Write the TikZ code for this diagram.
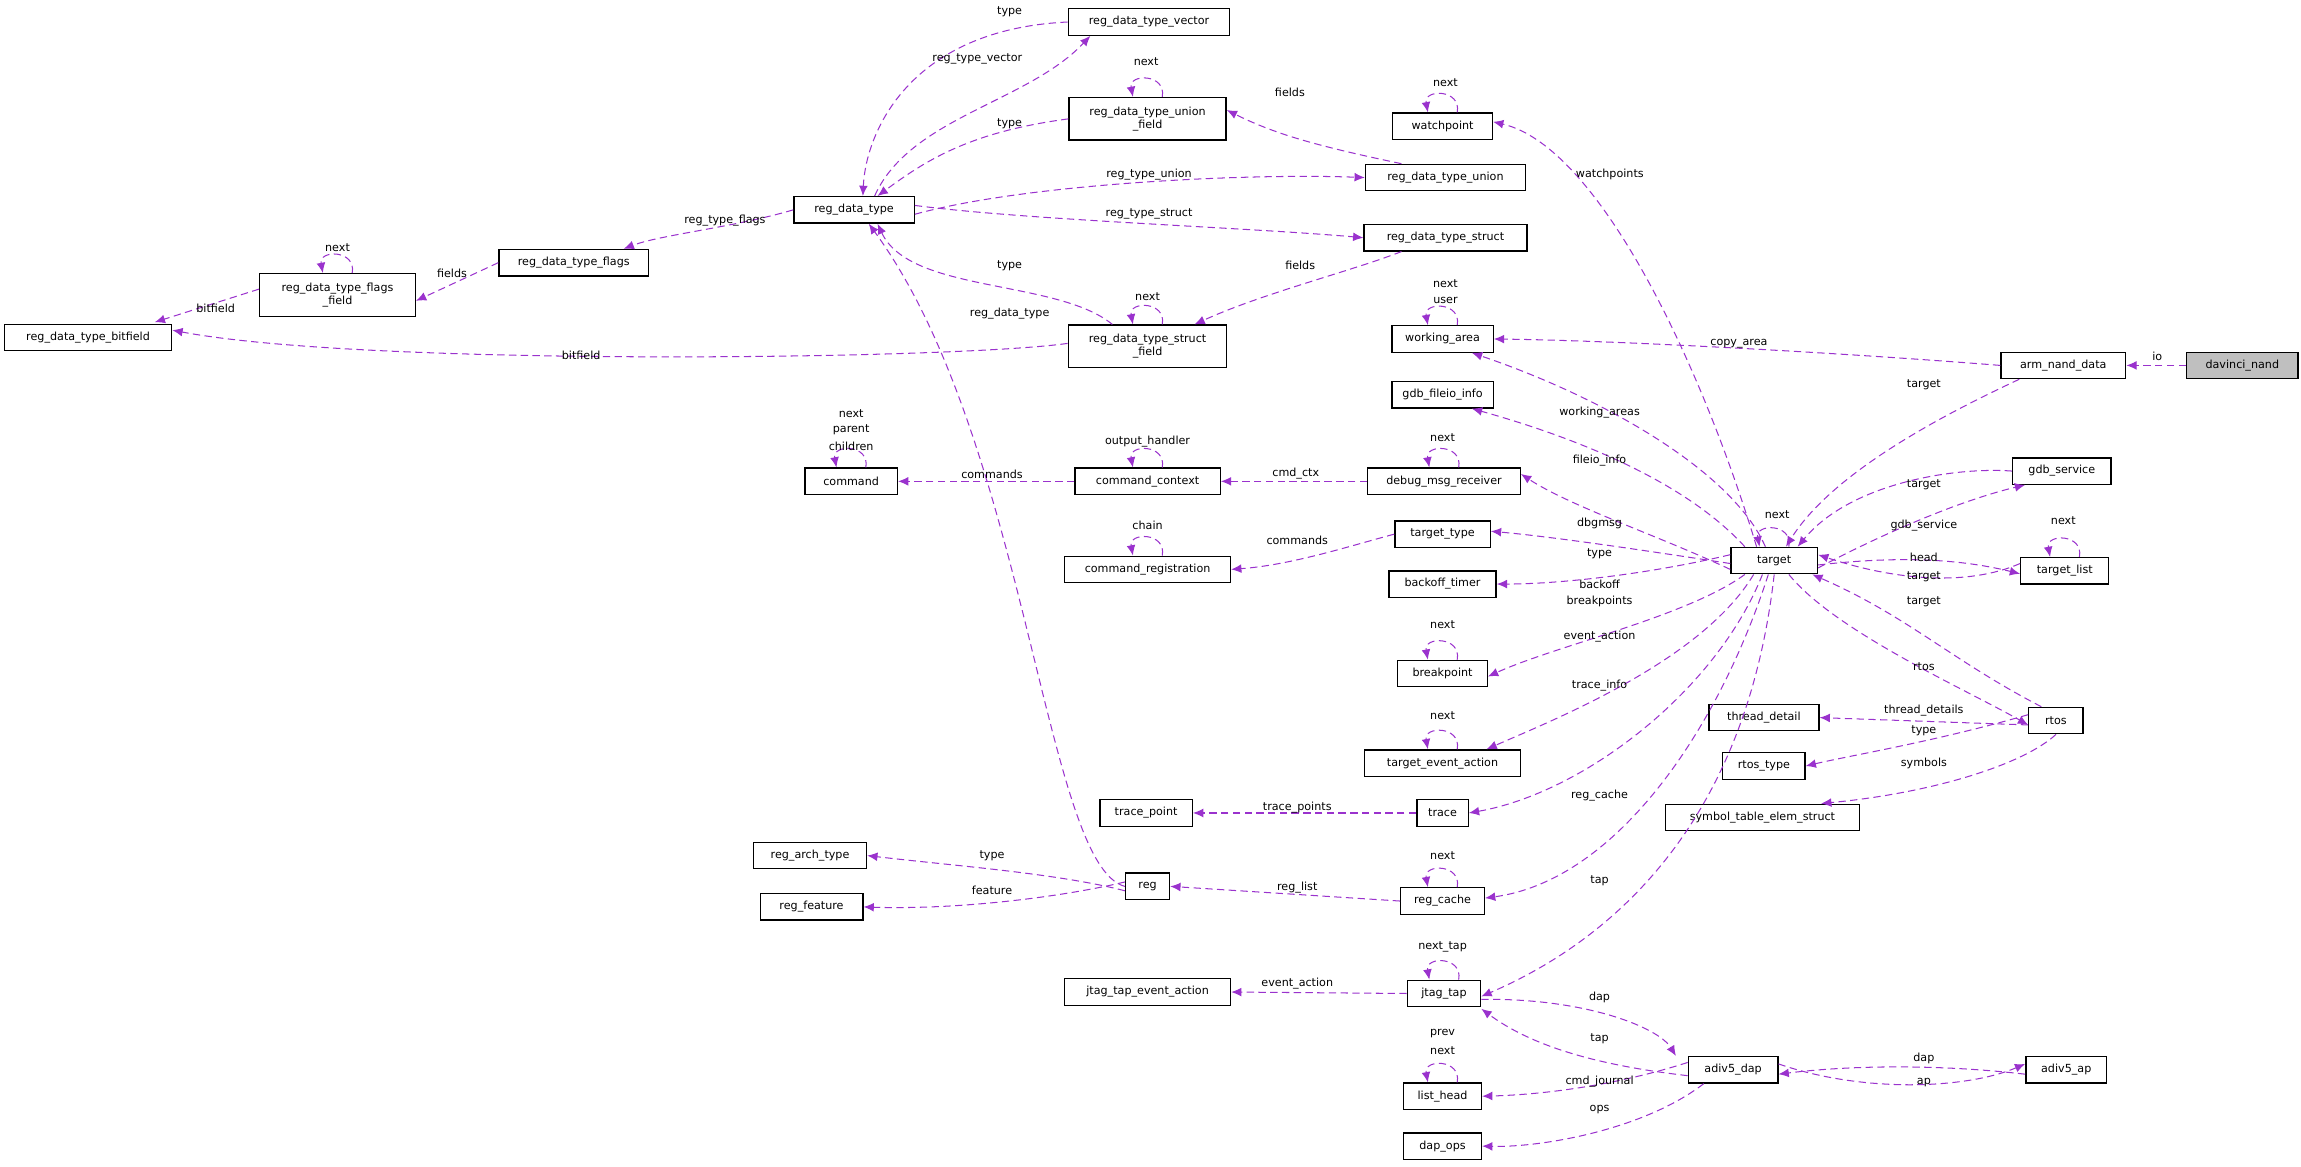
\documentclass[tikz,border=0pt]{standalone}
\usepackage{fontspec}
\setmainfont{DejaVu Sans}
\usetikzlibrary{arrows.meta}
\definecolor{ec}{HTML}{9A32CD}
\newcommand\sloop[2][10]{\draw[edge] ([xshift=#1]#2.north) .. controls +(3,-16) and +(-3,-16) .. ([xshift=-#1]#2.north);}
\begin{document}
\begin{tikzpicture}[x=1pt,y=-1pt,
  box/.style={draw=black,line width=0.9pt,fill=white,minimum height=18,inner xsep=2,inner ysep=1,font=\fontsize{7.6}{8.6}\selectfont},
  tall/.style={box,minimum height=29,align=center},
  edge/.style={draw=ec,dashed,dash pattern=on 5pt off 3pt,line width=0.7pt,-{Latex[length=7pt,width=6pt]}},
  lb/.style={font=\fontsize{7.6}{8.6}\selectfont,inner sep=0}]
\useasboundingbox (0,0) rectangle (1568,795);
% nodes
\node[box,minimum width=110] (vec) at (783,15) {reg\_data\_type\_vector};
\node[tall,minimum width=107] (uf) at (782,81) {reg\_data\_type\_union\\\_field};
\node[box,minimum width=68] (wp) at (983,86) {watchpoint};
\node[box,minimum width=109] (un) at (985,121) {reg\_data\_type\_union};
\node[box,minimum width=82] (rdt) at (582,143) {reg\_data\_type};
\node[box,minimum width=111] (st) at (985,162) {reg\_data\_type\_struct};
\node[box,minimum width=102] (fl) at (391,179) {reg\_data\_type\_flags};
\node[tall,minimum width=106] (ff) at (230,201) {reg\_data\_type\_flags\\\_field};
\node[box,minimum width=114] (bf) at (60,230) {reg\_data\_type\_bitfield};
\node[tall,minimum width=108] (sf) at (782,236) {reg\_data\_type\_struct\\\_field};
\node[box,minimum width=69] (wa) at (983,231) {working\_area};
\node[box,minimum width=85] (arm) at (1406,249) {arm\_nand\_data};
\node[box,minimum width=76,fill=black!25] (dav) at (1528,249) {davinci\_nand};
\node[box,minimum width=69] (gfi) at (983,269) {gdb\_fileio\_info};
\node[box,minimum width=63] (cmd) at (580,328) {command};
\node[box,minimum width=99] (cc) at (782,328) {command\_context};
\node[box,minimum width=104] (dmr) at (984,328) {debug\_msg\_receiver};
\node[box,minimum width=67] (gs) at (1405,321) {gdb\_service};
\node[box,minimum width=65] (tt) at (983,364) {target\_type};
\node[box,minimum width=113] (cr) at (782,388) {command\_registration};
\node[box,minimum width=59] (tg) at (1209,382) {target};
\node[box,minimum width=60] (tl) at (1407,389) {target\_list};
\node[box,minimum width=73] (bt) at (983,398) {backoff\_timer};
\node[box,minimum width=61] (bp) at (983,459) {breakpoint};
\node[box,minimum width=75] (td) at (1202,489) {thread\_detail};
\node[box,minimum width=37] (rtos) at (1401,491) {rtos};
\node[box,minimum width=106] (tea) at (983,520) {target\_event\_action};
\node[box,minimum width=56] (rt) at (1202,522) {rtos\_type};
\node[box,minimum width=63] (tp) at (781,554) {trace\_point};
\node[box,minimum width=35] (tr) at (983,554) {trace};
\node[box,minimum width=132] (sym) at (1201,557) {symbol\_table\_elem\_struct};
\node[box,minimum width=77] (ra) at (552,583) {reg\_arch\_type};
\node[box,minimum width=70] (rf) at (553,618) {reg\_feature};
\node[box,minimum width=30] (reg) at (782,604) {reg};
\node[box,minimum width=57] (rc) at (983,614) {reg\_cache};
\node[box,minimum width=113] (jtea) at (782,676) {jtag\_tap\_event\_action};
\node[box,minimum width=50] (jt) at (984,677) {jtag\_tap};
\node[box,minimum width=61] (dap) at (1181,729) {adiv5\_dap};
\node[box,minimum width=55] (ap) at (1408,729) {adiv5\_ap};
\node[box,minimum width=53] (lh) at (983,747) {list\_head};
\node[box,minimum width=53] (ops) at (983,781) {dap\_ops};
% self loops
\sloop{uf} \sloop{ff} \sloop{sf} \sloop{wp} \sloop{wa} \sloop{cmd} \sloop{cc} \sloop{dmr}
\sloop{cr} \sloop{tg} \sloop{tl} \sloop{bp} \sloop{tea} \sloop{rc} \sloop{jt} \sloop{lh}
% edges
\draw[edge] (vec.west) .. controls (620,20) and (590,90) .. ([xshift=6]rdt.north);
\draw[edge] ([xshift=14]rdt.north) .. controls (620,80) and (700,70) .. ([xshift=-40]vec.south);
\draw[edge] (uf.west) .. controls (660,90) and (630,110) .. ([xshift=16]rdt.north);
\draw[edge] ([xshift=-30]un.north) .. controls (900,100) and (870,92) .. ([yshift=6]uf.east);
\draw[edge] ([yshift=-3]rdt.east) .. controls (700,125) and (850,118) .. (un.west);
\draw[edge] ([yshift=3]rdt.east) .. controls (700,150) and (850,155) .. (st.west);
\draw[edge] (rdt.west) .. controls (500,155) and (450,160) .. ([xshift=34]fl.north);
\draw[edge] (fl.west) -- ([yshift=-4]ff.east);
\draw[edge] ([yshift=4]ff.west) -- ([xshift=-12,yshift=1]bf.north east);
\draw[edge] ([yshift=2]sf.west) .. controls (650,245) and (250,250) .. ([yshift=5]bf.east);
\draw[edge] ([xshift=-24]sf.north) .. controls (720,190) and (620,200) .. ([xshift=16]rdt.south);
\draw[edge] ([xshift=-30]st.south) .. controls (920,185) and (860,200) .. ([xshift=32]sf.north);
\draw[edge] (reg.west) .. controls (712,590) and (700,300) .. ([xshift=10]rdt.south);
\draw[edge] ([xshift=-12]tg.north) .. controls (1160,250) and (1090,100) .. ([yshift=3]wp.east);
\draw[edge] (arm.west) .. controls (1250,240) and (1100,232) .. (wa.east);
\draw[edge] ([xshift=-6]tg.north) .. controls (1180,320) and (1090,270) .. ([xshift=20]wa.south);
\draw[edge] (dav.west) -- (arm.east);
\draw[edge] ([xshift=-30]arm.south) .. controls (1330,280) and (1250,320) .. ([xshift=8]tg.north);
\draw[edge] ([xshift=-20]tg.north) .. controls (1150,330) and (1080,300) .. ([xshift=20]gfi.south);
\draw[edge] (gs.west) .. controls (1330,318) and (1260,330) .. ([xshift=16]tg.north);
\draw[edge] ([yshift=-5]tg.east) .. controls (1290,360) and (1340,340) .. ([xshift=-25]gs.south);
\draw[edge] (cc.west) -- (cmd.east);
\draw[edge] (dmr.west) -- (cc.east);
\draw[edge] ([yshift=-6]tg.west) .. controls (1130,365) and (1070,345) .. ([yshift=5]dmr.east);
\draw[edge] ([yshift=-2]tg.west) .. controls (1120,375) and (1060,366) .. ([yshift=2]tt.east);
\draw[edge] (tt.west) .. controls (920,372) and (880,385) .. (cr.east);
\draw[edge] ([yshift=-3]tg.east) .. controls (1300,378) and (1340,382) .. ([yshift=-2]tl.west);
\draw[edge] ([yshift=5]tl.west) .. controls (1340,400) and (1290,395) .. ([yshift=4]tg.east);
\draw[edge] ([yshift=4]tg.west) .. controls (1120,392) and (1060,398) .. (bt.east);
\draw[edge] ([xshift=-20]tg.south) .. controls (1150,420) and (1060,440) .. ([yshift=-2]bp.east);
\draw[edge] ([xshift=-10]rtos.north) .. controls (1330,450) and (1300,420) .. ([xshift=-4]tg.south east);
\draw[edge] ([xshift=10]tg.south) .. controls (1250,430) and (1340,470) .. ([yshift=-3]rtos.west);
\draw[edge] ([yshift=-3]rtos.west) -- (td.east);
\draw[edge] ([yshift=4]rtos.west) .. controls (1320,505) and (1260,515) .. (rt.east);
\draw[edge] (rtos.south) .. controls (1380,520) and (1320,540) .. ([xshift=40]sym.north);
\draw[edge] ([xshift=-14]tg.south) .. controls (1160,450) and (1060,490) .. ([xshift=30]tea.north);
\draw[edge] ([xshift=-8]tg.south) .. controls (1170,470) and (1080,540) .. (tr.east);
\draw[edge] (tr.west) -- (tp.east);
\draw[edge] ([xshift=-4]tg.south) .. controls (1170,500) and (1100,600) .. ([yshift=2]rc.east);
\draw[edge] (rc.west) -- (reg.east);
\draw[edge] ([yshift=-3]reg.west) .. controls (720,595) and (650,590) .. (ra.east);
\draw[edge] ([yshift=3]reg.west) .. controls (720,612) and (650,620) .. (rf.east);
\draw[edge] (tg.south) .. controls (1190,560) and (1100,640) .. ([yshift=-2]jt.east);
\draw[edge] (jt.west) -- (jtea.east);
\draw[edge] ([yshift=-4]jt.east) .. controls (1080,680) and (1130,700) .. ([xshift=-8]dap.north west);
\draw[edge] ([yshift=-4]dap.west) .. controls (1080,725) and (1040,710) .. ([yshift=-1]jt.south east);
\draw[edge] ([yshift=-3]ap.west) .. controls (1320,725) and (1260,726) .. ([yshift=-3]dap.east);
\draw[edge] ([yshift=4]dap.east) .. controls (1270,745) and (1340,742) .. ([yshift=4]ap.west);
\draw[edge] ([yshift=5]dap.west) .. controls (1100,740) and (1050,746) .. (lh.east);
\draw[edge] ([xshift=-20]dap.south) .. controls (1120,770) and (1050,782) .. (ops.east);
% labels
\node[lb] at (688,8) {type};
\node[lb] at (666,40) {reg\_type\_vector};
\node[lb] at (781,42) {next};
\node[lb] at (688,84) {type};
\node[lb] at (879,63) {fields};
\node[lb] at (783,119) {reg\_type\_union};
\node[lb] at (783,146) {reg\_type\_struct};
\node[lb] at (494,150) {reg\_type\_flags};
\node[lb] at (308,186) {fields};
\node[lb] at (230,169) {next};
\node[lb] at (147,210) {bitfield};
\node[lb] at (688,181) {type};
\node[lb] at (886,181) {fields};
\node[lb] at (782,202) {next};
\node[lb] at (688,214) {reg\_data\_type};
\node[lb] at (396,242) {bitfield};
\node[lb] at (1097,119) {watchpoints};
\node[lb] at (985,56) {next};
\node[lb] at (985,193) {next};
\node[lb] at (985,205) {user};
\node[lb] at (1185,234) {copy\_area};
\node[lb] at (1470,243) {io};
\node[lb] at (1311,262) {target};
\node[lb] at (1090,281) {working\_areas};
\node[lb] at (1090,314) {fileio\_info};
\node[lb] at (1311,330) {target};
\node[lb] at (1311,358) {gdb\_service};
\node[lb] at (580,282) {next};
\node[lb] at (580,293) {parent};
\node[lb] at (580,304) {children};
\node[lb] at (676,323) {commands};
\node[lb] at (782,301) {output\_handler};
\node[lb] at (883,323) {cmd\_ctx};
\node[lb] at (983,298) {next};
\node[lb] at (1090,357) {dbgmsg};
\node[lb] at (1211,351) {next};
\node[lb] at (1090,377) {type};
\node[lb] at (782,358) {chain};
\node[lb] at (884,368) {commands};
\node[lb] at (1311,380) {head};
\node[lb] at (1311,393) {target};
\node[lb] at (1406,355) {next};
\node[lb] at (1090,398) {backoff};
\node[lb] at (1090,410) {breakpoints};
\node[lb] at (1311,410) {target};
\node[lb] at (983,426) {next};
\node[lb] at (1311,454) {rtos};
\node[lb] at (1090,434) {event\_action};
\node[lb] at (1311,484) {thread\_details};
\node[lb] at (1311,498) {type};
\node[lb] at (1311,520) {symbols};
\node[lb] at (983,488) {next};
\node[lb] at (1090,467) {trace\_info};
\node[lb] at (884,550) {trace\_points};
\node[lb] at (1090,542) {reg\_cache};
\node[lb] at (983,583) {next};
\node[lb] at (884,605) {reg\_list};
\node[lb] at (676,583) {type};
\node[lb] at (676,607) {feature};
\node[lb] at (1090,600) {tap};
\node[lb] at (983,645) {next\_tap};
\node[lb] at (884,670) {event\_action};
\node[lb] at (1090,680) {dap};
\node[lb] at (1090,708) {tap};
\node[lb] at (1311,721) {dap};
\node[lb] at (1311,738) {ap};
\node[lb] at (983,704) {prev};
\node[lb] at (983,716) {next};
\node[lb] at (1090,737) {cmd\_journal};
\node[lb] at (1090,756) {ops};
\end{tikzpicture}
\end{document}
